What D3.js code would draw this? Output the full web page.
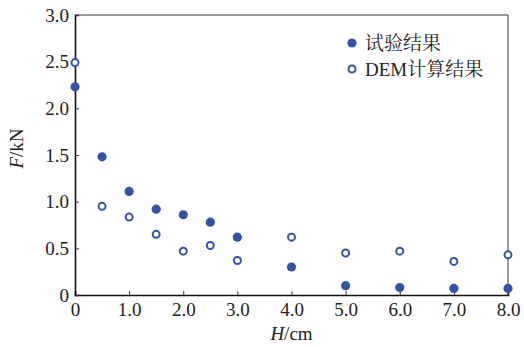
<!DOCTYPE html>
<html>
<head>
<meta charset="utf-8">
<script src="https://cdn.jsdelivr.net/npm/d3@7"></script>
<style>
  body { margin: 0; background: #fff; }
  svg text { font-family: "Liberation Serif", "Noto Serif CJK SC", "Noto Sans CJK SC", serif; fill: #222; }
</style>
</head>
<body>
<svg id="chart" width="524" height="347"></svg>
<script>
// displacement H (cm)
const heights = [0, 0.5, 1.0, 1.5, 2.0, 2.5, 3.0, 4.0, 5.0, 6.0, 7.0, 8.0];
// test results F (kN)
const testForce = [2.23, 1.48, 1.11, 0.92, 0.86, 0.78, 0.62, 0.30, 0.10, 0.08, 0.07, 0.07];
// DEM results F (kN)
const demForce = [2.49, 0.95, 0.835, 0.65, 0.47, 0.53, 0.37, 0.62, 0.45, 0.47, 0.36, 0.43];

const xTicks = [0, 1, 2, 3, 4, 5, 6, 7, 8];
const yTicks = [0, 0.5, 1.0, 1.5, 2.0, 2.5, 3.0];
const seriesNames = ["试验结果", "DEM计算结果"];

const color = "#3553a5";
const width = 524, height = 347,
    margin = { top: 15, right: 16, bottom: 52, left: 75 };
const w = width - margin.left - margin.right,
    h = height - margin.top - margin.bottom;

const svg = d3.select("#chart")
    .append("g")
    .attr("transform", `translate(${margin.left},${margin.top})`);

const x = d3.scaleLinear().domain([0, 8]).range([0, w]);
const y = d3.scaleLinear().domain([0, 3]).range([h, 0]);

const fmt = d => d === 0 ? "0" : d3.format(".1f")(d);

// frame (top + right)
svg.append("path")
    .attr("d", `M0,0H${w}V${h}`)
    .attr("fill", "none")
    .attr("stroke", "#333")
    .attr("stroke-width", 1);

// x axis, ticks pointing inward
const xAxis = svg.append("g")
    .attr("transform", `translate(0,${h})`)
    .call(d3.axisBottom(x).tickValues(xTicks).tickSize(-4).tickPadding(8).tickFormat(fmt));

// y axis, ticks pointing inward
const yAxis = svg.append("g")
    .call(d3.axisLeft(y).tickValues(yTicks).tickSize(-4).tickPadding(6).tickFormat(fmt));

[xAxis, yAxis].forEach(a => {
    a.attr("font-family", null).attr("font-size", null);
    a.select(".domain").attr("stroke", "#111").attr("stroke-width", 1.6);
    a.selectAll(".tick line").attr("stroke", "#333");
    a.selectAll("text")
        .style("font-size", "19px")
        .attr("fill", "#222");
});
xAxis.selectAll("text").attr("dy", "0.71em");

// axis titles
svg.append("text")
    .attr("x", x(4))
    .attr("y", h + 45)
    .attr("text-anchor", "middle")
    .style("font-size", "19px")
    .html('<tspan font-style="italic">H</tspan>/cm');

svg.append("text")
    .attr("transform", `translate(${-52},${y(1.57)}) rotate(-90)`)
    .attr("text-anchor", "middle")
    .style("font-size", "19px")
    .html('<tspan font-style="italic">F</tspan>/kN');

// test points (filled)
svg.selectAll(".test")
    .data(heights.map((d, i) => [d, testForce[i]]))
    .enter().append("circle")
    .attr("class", "test")
    .attr("cx", d => x(d[0]))
    .attr("cy", d => y(d[1]))
    .attr("r", 4.6)
    .attr("fill", color);

// DEM points (open)
svg.selectAll(".dem")
    .data(heights.map((d, i) => [d, demForce[i]]))
    .enter().append("circle")
    .attr("class", "dem")
    .attr("cx", d => x(d[0]))
    .attr("cy", d => y(d[1]))
    .attr("r", 3.5)
    .attr("fill", "#fff")
    .attr("stroke", color)
    .attr("stroke-width", 2);

// legend
const legend = svg.append("g").attr("transform", `translate(${352 - margin.left},${43 - margin.top})`);
seriesNames.forEach((name, i) => {
    const g = legend.append("g").attr("transform", `translate(0,${i * 26})`);
    if (i === 0) {
        g.append("circle").attr("r", 4.6).attr("fill", color);
    } else {
        g.append("circle").attr("r", 3.5).attr("fill", "#fff")
            .attr("stroke", color).attr("stroke-width", 2);
    }
    g.append("text")
        .attr("x", 13)
        .attr("dy", "0.35em")
        .style("font-size", "19px")
        .text(name);
});
</script>
</body>
</html>
